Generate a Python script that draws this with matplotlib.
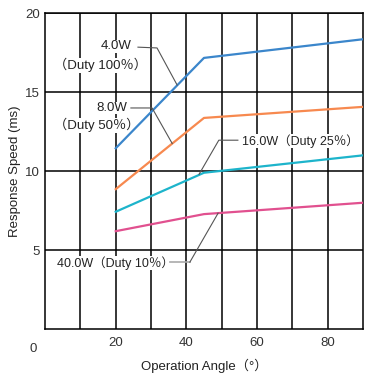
import matplotlib.pyplot as plt

plt.rcParams['font.family'] = ['Liberation Sans', 'Noto Sans CJK JP', 'DejaVu Sans']

# data
angle = [20, 45, 90]
w4 = [11.45, 17.17, 18.35]
w8 = [8.86, 13.37, 14.07]
w16 = [7.43, 9.9, 11.0]
w40 = [6.2, 7.28, 8.0]

colors = ["#3b86cb", "#f7894f", "#1db4cb", "#e1508f"]

fig = plt.figure(figsize=(3.76, 3.77), dpi=100)
ax = fig.add_axes([0.12, 0.127, 0.845, 0.838])

for vals, c in zip([w4, w8, w16, w40], colors):
    ax.plot(angle, vals, color=c, linewidth=1.6, zorder=3)

ax.set_xlim(0, 90)
ax.set_ylim(0, 20)
ax.set_xticks([20, 40, 60, 80])
ax.set_xticks([10, 30, 50, 70], minor=True)
ax.set_yticks([5, 10, 15, 20])
ax.grid(True, which='both', color='black', linewidth=1.1)
ax.tick_params(which='both', length=0, labelsize=9.5, colors='#333333')
ax.tick_params(axis='y', pad=4)
ax.tick_params(axis='x', pad=6)
for s in ax.spines.values():
    s.set_linewidth(1.1)
ax.text(-0.025, -0.045, "0", transform=ax.transAxes, ha='right', va='top',
        fontsize=9.5, color='#333333')

ax.set_xlabel("Operation Angle（°）", fontsize=9.5, color='#222222', labelpad=7)
ax.set_ylabel("Response Speed (ms)", fontsize=9.5, color='#222222', labelpad=3)

# annotations with leader lines
lc = '#555555'
box = dict(facecolor='white', edgecolor='none', pad=0.3)
tz = 2.5
ax.text(24.6, 17.9, "4.0W", ha='right', va='center', fontsize=9.5, color='#222222', bbox=box, zorder=tz)
ax.text(2.4, 16.7, "（Duty 100％）", ha='left', va='center', fontsize=9.5, color='#222222', bbox=box, zorder=tz)
ax.plot([26.3, 31.7, 37.4], [17.85, 17.8, 15.45], color=lc, linewidth=0.8, zorder=4)

ax.text(23.2, 14.0, "8.0W", ha='right', va='center', fontsize=9.5, color='#222222', bbox=box, zorder=tz)
ax.text(2.4, 12.9, "（Duty 50％）", ha='left', va='center', fontsize=9.5, color='#222222', bbox=box, zorder=tz)
ax.plot([24.3, 30.3, 36.0], [14.0, 14.0, 11.75], color=lc, linewidth=0.8, zorder=4)

ax.text(55.8, 11.9, "16.0W（Duty 25％）", ha='left', va='center', fontsize=9, color='#222222', bbox=box, zorder=tz)
ax.plot([54.6, 49.2, 43.6], [11.96, 11.96, 9.8], color=lc, linewidth=0.8, zorder=4)

ax.text(3.4, 4.2, "40.0W（Duty 10％）", ha='left', va='center', fontsize=9, color='#222222', bbox=box, zorder=tz)
ax.plot([35.4, 41.0], [4.24, 4.24], color='#aaaaaa', linewidth=1.2, zorder=4)
ax.plot([41.0, 49.0], [4.24, 7.34], color=lc, linewidth=0.8, zorder=4)

plt.savefig("out.png", dpi=100)
